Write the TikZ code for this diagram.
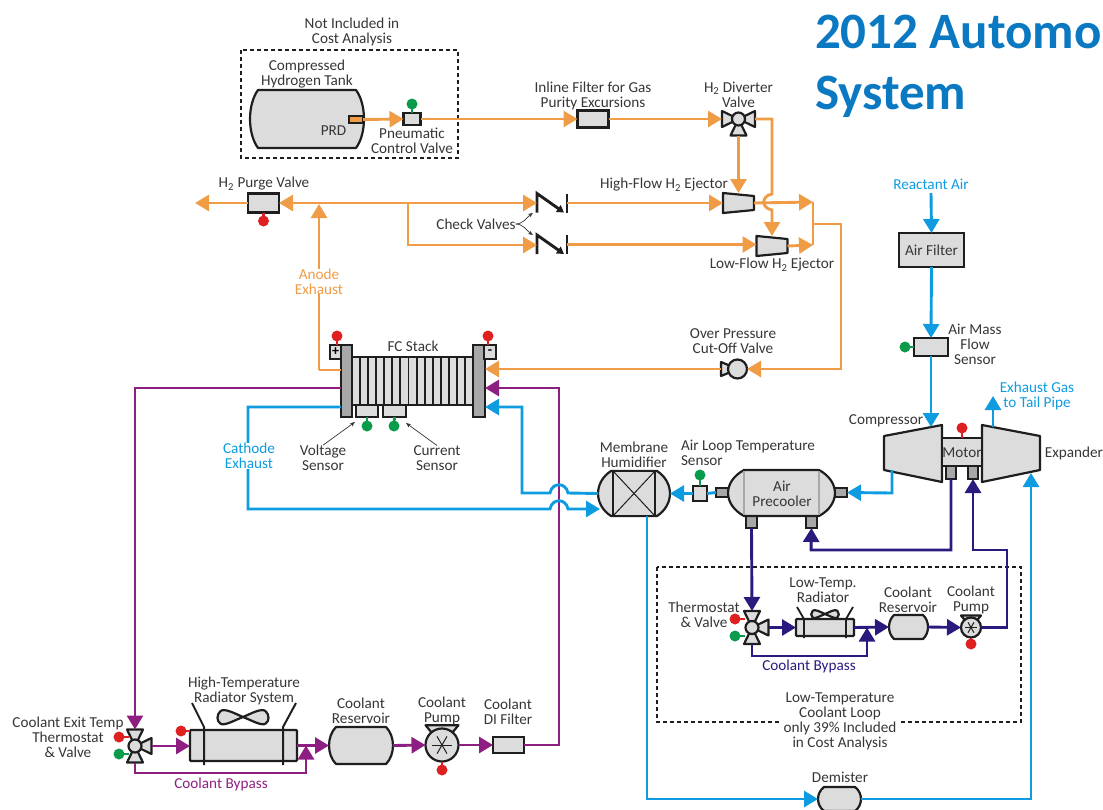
\documentclass[tikz,border=0pt]{standalone}
\usepackage{fontspec}
\setmainfont{Carlito}
\usetikzlibrary{arrows.meta,calc}

\definecolor{hcol}{HTML}{F09C46}
\definecolor{ccol}{HTML}{8E1F82}
\definecolor{acol}{HTML}{0E9BE0}
\definecolor{lcol}{HTML}{2B1A7E}
\definecolor{gy}{HTML}{DCDCDC}
\definecolor{gd}{HTML}{A8A8A8}
\definecolor{dk}{HTML}{1E1E1E}
\definecolor{txt}{HTML}{363636}
\definecolor{sigred}{HTML}{DF2020}
\definecolor{siggrn}{HTML}{0A9B4B}
\definecolor{ttlblue}{HTML}{0B78C2}

\newcommand{\vessel}[6]{
	\node[anch,minimum width=#4,minimum height=#5] (#1) at (#2,#3) {};
	\draw[part] ($(#1.north west)+(#6,0)$) -- ($(#1.north east)+(-#6,0)$)
		.. controls +({1.33*#6},{#5/4}) and +({1.33*#6},{-#5/4}) .. ($(#1.south east)+(-#6,0)$)
		-- ($(#1.south west)+(#6,0)$)
		.. controls +({-1.33*#6},{-#5/4}) and +({-1.33*#6},{#5/4}) .. ($(#1.north west)+(#6,0)$) -- cycle;
}
\newcommand{\tvalve}[4]{
	\node[anch,minimum width=33,minimum height=33] (#1) at (#2,#3) {};
	\foreach \a in {#4}
		\draw[part,shift={(#2,#3)},rotate=\a] (0,0) -- (16.5,-8) -- (16.5,8) -- cycle;
	\draw[part] (#1.center) circle[radius=6.5pt];
}
\newcommand{\ejector}[3]{
	\node[anch,minimum width=31,minimum height=20] (#1) at (#2,#3) {};
	\draw[part] (#1.north west) -- ($(#1.north east)+(0,3)$) -- ($(#1.south east)+(0,-3)$) -- (#1.south west) -- cycle;
}
\newcommand{\checkv}[3]{
	\node[anch,minimum width=30,minimum height=19] (#1) at (#2,#3) {};
	\draw[draw=dk,line width=2.9pt,-{Triangle[length=7pt,width=8pt]}] (#1.south west) -- (#1.north west) -- ($(#1.south east)+(-3,0)$);
	\draw[draw=dk,line width=2.9pt] (#1.north east) -- (#1.south east);
}
\newcommand{\cpump}[4]{
	\draw[part] ($(#2,#3)+({-#4},{-1.2*#4})$) -- ($(#2,#3)+(#4,{-1.2*#4})$) -- ($(#2,#3)+({.5*#4},{-.6*#4})$) -- ($(#2,#3)+({-.5*#4},{-.6*#4})$) -- cycle;
	\node[circle,draw=dk,fill=gy,line width=2.2pt,inner sep=0,outer sep=0,minimum size=2*#4] (#1) at (#2,#3) {};
	\foreach \a in {0,60,120}
		\draw[draw=dk,line width=1pt,shift={(#2,#3)},rotate=\a] ({-.6*#4},0) -- ({.6*#4},0);
}
\newcommand{\fan}[5]{
	\coordinate (#1) at (#2,#3);
	\draw[part,shift={(#2,#3)},xscale=#4,yscale=#5] (0,0) .. controls (.35,-.45) and (.8,-1.2) .. (.95,-.7)
		.. controls (1.1,-.3) and (1.1,.5) .. (.95,.8) .. controls (.8,1.2) and (.35,.4) .. (0,0)
		.. controls (-.35,-.45) and (-.8,-1.2) .. (-.95,-.7)
		.. controls (-1.1,-.3) and (-1.1,.5) .. (-.95,.8) .. controls (-.8,1.2) and (-.35,.4) .. (0,0) -- cycle;
}
\newcommand{\bulb}[5]{
	\node[circle,fill=#2,inner sep=0,outer sep=0,minimum size=11] (#1) at (#3,#4) {};
	\draw[draw=#2,line width=2.8pt] (#1.center) -- (#5);
}

\begin{document}
\begin{tikzpicture}[x=1pt,y=-1pt,>={Triangle[length=14pt,width=16pt]}]
	\tikzstyle{anch}=[rectangle,inner sep=0,outer sep=0]
	\tikzstyle{part}=[draw=dk,fill=gy,line width=2.2pt,line join=round]
	\tikzstyle{bx}=[anch,draw=dk,fill=gy,line width=2.2pt]
	\tikzstyle{lbl}=[align=center,text=txt,inner sep=0,outer sep=0,font=\fontsize{15.2}{15}\selectfont]
	\tikzstyle{dbox}=[draw=dk,line width=2.4pt,dash pattern=on 4pt off 3pt]
	\tikzstyle{lead}=[draw=txt,line width=.7pt,-{Stealth[length=5pt,width=4pt]}]
	\tikzstyle{hpipe}=[draw=hcol,line width=2.9pt]
	\tikzstyle{cpipe}=[draw=ccol,line width=2.9pt]
	\tikzstyle{apipe}=[draw=acol,line width=2.9pt]
	\tikzstyle{lpipe}=[draw=lcol,line width=2.9pt]
	\tikzstyle{hflow}=[hpipe,->]
	\tikzstyle{cflow}=[cpipe,->]
	\tikzstyle{aflow}=[apipe,->]
	\tikzstyle{lflow}=[lpipe,->]

	\clip (0,0) rectangle (1103,809);

	\node[anch,font=\fontsize{51}{62}\selectfont\bfseries,text=ttlblue,anchor=west] (ttl) at (815,32) {2012 Automo};
	\node[anch,font=\fontsize{51}{62}\selectfont\bfseries,text=ttlblue,anchor=west] (ttlb) at (815,97) {System};

	\draw[dbox] (241,50) rectangle (458,158);
	\draw[dbox] (657,567) rectangle (1021,722);

	\coordinate (jpg) at (408,203);
	\coordinate (jlo) at (408,245);
	\coordinate (pvo) at (195,203);
	\coordinate (divr) at (772,119);
	\coordinate (bmpt) at (772,194);
	\coordinate (bmpb) at (772,210);
	\coordinate (mixt) at (813,202);
	\coordinate (mixb) at (813,245);
	\coordinate (mixo) at (813,224);
	\coordinate (oprt) at (841,224);
	\coordinate (aex) at (319,370);
	\coordinate (aext) at (319,204);
	\coordinate (pupr) at (559,388);
	\coordinate (cexw) at (248,407);
	\coordinate (cexs) at (248,509);
	\coordinate (bp1a) at (550,509);
	\coordinate (bp1b) at (568,509);
	\coordinate (bp2a) at (550,493);
	\coordinate (bp2b) at (568,493);
	\coordinate (humi) at (600,509);
	\coordinate (hbl) at (522,493);
	\coordinate (hbt) at (522,407);
	\coordinate (hout) at (647,799);
	\coordinate (expi) at (1031,473);
	\coordinate (exb) at (993,427);
	\coordinate (exh) at (993,396);
	\coordinate (cmpi) at (931,427);
	\coordinate (cmpo) at (892,470);
	\coordinate (cmpb) at (892,493);
	\coordinate (rair) at (931,193);
	\coordinate (lc1) at (951,550);
	\coordinate (lc2) at (811,550);
	\coordinate (lc3) at (973,550);
	\coordinate (lc4) at (1007,550);
	\coordinate (lcb) at (752,656);
	\coordinate (lcc) at (867,656);
	\coordinate (hcb) at (135,773);
	\coordinate (hcc) at (306,773);
	\coordinate (vtip) at (355,422);
	\coordinate (ctip) at (406,423);
	\coordinate (ka) at (533,213);
	\coordinate (kb) at (533,235);

	\vessel{tank}{307}{119}{114}{58}{8}
	\node[bx,fill=hcol,minimum width=14,minimum height=7] (prd) at (356,119.5) {};
	\node[bx,minimum width=17,minimum height=12] (pcv) at (412,119) {};
	\node[bx,minimum width=31,minimum height=17] (filt) at (593,119) {};
	\tvalve{div}{738.5}{119}{0,180,270}
	\node[bx,minimum width=31,minimum height=19] (pv) at (263.5,203) {};
	\checkv{cv1}{552}{203}
	\checkv{cv2}{552}{244.5}
	\ejector{ejh}{738.5}{203}
	\ejector{ejl}{772}{246}
	\node[anch,minimum width=26,minimum height=20] (opv) at (734,369) {};
	\draw[part] (721,362) -- (721,376) -- (738,369) -- cycle;
	\draw[part] (737.5,369) circle[radius=9.5pt];

	\node[bx,fill=gd,minimum width=11,minimum height=72] (pltl) at (346.5,381) {};
	\node[bx,fill=gd,minimum width=12,minimum height=72] (pltr) at (479,381) {};
	\node[bx,minimum width=121,minimum height=48] (stack) at (412.5,381) {};
	\foreach \i in {1,...,14}
		\draw[draw=dk,line width=1.9pt] (352+\i*8.07,357) -- (352+\i*8.07,405);
	\node[bx,minimum width=11,minimum height=14,font=\bfseries\fontsize{14}{14}\selectfont] (plus) at (335.5,352) {+};
	\node[bx,minimum width=12,minimum height=14,font=\bfseries\fontsize{14}{14}\selectfont] (minus) at (490,352) {-};
	\node[bx,minimum width=22,minimum height=12] (vsn) at (367,411) {};
	\node[bx,minimum width=23,minimum height=12] (csn) at (394.5,411) {};

	\node[bx,minimum width=65,minimum height=34] (afil) at (931.5,250) {};
	\node[bx,minimum width=34,minimum height=18] (amf) at (931,347) {};

	\draw[part] (884,436) -- (942,425) -- (942,482) -- (884,470) -- cycle;
	\node[anch,minimum width=58,minimum height=57] (comp) at (913,453.5) {};
	\draw[part] (982,425) -- (1040,436) -- (1040,470) -- (982,482) -- cycle;
	\node[anch,minimum width=58,minimum height=57] (expd) at (1011,453.5) {};
	\node[bx,fill=gd,minimum width=10,minimum height=13] (ms1) at (951,472.5) {};
	\node[bx,fill=gd,minimum width=10,minimum height=13] (ms2) at (973,472.5) {};
	\node[bx,minimum width=40,minimum height=28] (mot) at (962,452) {};

	\node[bx,fill=gd,minimum width=14,minimum height=9] (pcl) at (723,492.5) {};
	\node[bx,fill=gd,minimum width=14,minimum height=9] (pcr) at (840,492.5) {};
	\node[bx,fill=gd,minimum width=11,minimum height=13] (pcb1) at (751.5,521.5) {};
	\node[bx,fill=gd,minimum width=11,minimum height=13] (pcb2) at (811.5,521.5) {};
	\vessel{pc}{781.5}{493}{107}{46}{16}
	\draw[draw=gd,line width=2.5pt] (744,471) -- (744,515);
	\draw[draw=gd,line width=2.5pt] (819,471) -- (819,515);
	\node[bx,minimum width=14,minimum height=15] (als) at (700,493.5) {};

	\vessel{hum}{634}{493.5}{72}{45}{13}
	\node[bx,minimum width=42,minimum height=45] (humx) at (634,493.5) {};
	\draw[draw=dk,line width=1pt] (humx.north west) -- (humx.south east);
	\draw[draw=dk,line width=1pt] (humx.north east) -- (humx.south west);
	\vessel{dem}{839.5}{799}{43}{24}{6}

	\tvalve{tv1}{135}{746}{0,90,270}
	\node[bx,rounded corners=1pt,minimum width=107,minimum height=31] (hrad) at (243.5,745.5) {};
	\draw[draw=dk,line width=2pt] (192,703) -- (204,727) -- (204,765);
	\draw[draw=dk,line width=2pt] (296,703) -- (283,727) -- (283,765);
	\fan{hfan}{243}{717}{24}{8}
	\vessel{hres}{361}{745.5}{64}{37}{7}
	\cpump{hpmp}{442}{745}{16.5}
	\node[bx,minimum width=31,minimum height=16] (difl) at (508.5,745) {};

	\tvalve{tv2}{752}{627.5}{0,90,270}
	\node[bx,rounded corners=1pt,minimum width=58,minimum height=17] (lrad) at (825,627.5) {};
	\draw[draw=dk,line width=1.8pt] (797,607) -- (804,619) -- (804,638);
	\draw[draw=dk,line width=1.8pt] (853,607) -- (846,619) -- (846,638);
	\fan{lfan}{825}{614}{13}{4.5}
	\vessel{lres}{908.5}{627}{39}{24}{5}
	\cpump{lpmp}{971}{627.5}{10}

	\path (prd.east) edge[hflow] (pcv.west)
		(pcv.east) edge[hflow] (filt.west)
		(filt.east) edge[hflow] (div.west)
		(div.south) edge[hflow] (ejh.north)
		(cv1.east) edge[hflow] (ejh.west |- cv1.east)
		(cv2.east) edge[hflow] (ejl.west |- cv2.east)
		(ejh.east) edge[hflow] (mixt)
		(ejl.east) edge[hflow] (mixb)
		(jpg) edge[hflow] (cv1.west)
		(aex) edge[hflow] (aext)
		(jpg) edge[hflow] (pv.east)
		(pv.west) edge[hflow] (pvo);
	\draw[hflow] (jpg) -- (jlo) -- (cv2.west |- jlo);
	\draw[hflow] (div.east) -- (divr) -- (bmpt) .. controls +(-11,2) and +(-11,-2) .. (bmpb) -- (ejl.north);
	\draw[hpipe] (mixt) -- (mixb);
	\draw[hflow] (mixo) -- (oprt) |- (opv.east);
	\draw[hflow] (opv.west) -- (pltr.east |- opv.west);
	\draw[hpipe] (pltl.west |- aex) -- (aex);

	\draw[cflow] (difl.east) -| (pupr) -- (pltr.east |- pupr);
	\draw[cflow] (pltl.west |- pupr) -| (tv1.north);
	\path (tv1.east) edge[cflow] (hrad.west |- tv1.east)
		(hrad.east) edge[cflow] (hres.west)
		(hres.east) edge[cflow] (hpmp.west)
		(hpmp.east) edge[cflow] (difl.west);
	\draw[cflow] (tv1.south) -- (hcb) -- (hcc) -- (hcc |- hrad.east);

	\draw[aflow] (pltl.west |- cexw) -- (cexw) -- (cexs) -- (bp1a) .. controls +(2,-11) and +(-2,-11) .. (bp1b) -- (humi);
	\draw[aflow] (hum.west) -- (bp2b) .. controls +(-2,-11) and +(2,-11) .. (bp2a) -- (hbl) -- (hbt) -- (pltr.east |- hbt);
	\draw[aflow] (hum.south -| hout) -- (hout) -- (dem.west |- hout);
	\draw[aflow] (dem.east) -| (expi);
	\path (rair) edge[aflow] (afil.north)
		(afil.south) edge[aflow] (amf.north)
		(amf.south) edge[aflow] (cmpi)
		(pcl.west) edge[apipe] (als.east)
		(als.west) edge[aflow] (hum.east)
		(exb) edge[aflow] (exh);
	\draw[aflow] (cmpo) -- (cmpb) -- (pcr.east);

	\draw[lflow] (pcb1.south) -- (tv2.north);
	\draw[lflow] (ms1.south) -- (lc1) -- (lc2) -- (pcb2.south);
	\draw[lflow] (lpmp.east) -| (lc4) -- (lc3) -- (ms2.south);
	\path (tv2.east) edge[lflow] (lrad.west |- tv2.east)
		(lrad.east) edge[lflow] (lres.west)
		(lres.east) edge[lflow] (lpmp.west);
	\draw[lflow] (tv2.south) -- (lcb) -- (lcc) -- (lcc |- lrad.east);

	\bulb{rpv}{sigred}{263.5}{221}{pv.south}
	\bulb{gpcv}{siggrn}{412}{104}{pcv.north}
	\bulb{rplus}{sigred}{337}{336}{337,345}
	\bulb{rmin}{sigred}{488}{336}{488,345}
	\bulb{gvs}{siggrn}{367}{426}{vsn.south}
	\bulb{gcs}{siggrn}{394}{426}{csn.south}
	\bulb{gals}{siggrn}{700}{475}{als.north}
	\bulb{gamf}{siggrn}{905}{347}{amf.west}
	\bulb{rmot}{sigred}{962}{428}{mot.north}
	\bulb{rtv1}{sigred}{119}{737}{129,737}
	\bulb{gtv1}{siggrn}{119}{754}{129,754}
	\bulb{rhrd}{sigred}{181}{731}{190,731}
	\bulb{rhp}{sigred}{442}{770}{hpmp.south}
	\bulb{rtv2}{sigred}{735}{619}{745,619}
	\bulb{gtv2}{siggrn}{735}{636}{745,636}
	\bulb{rlp}{sigred}{971}{644}{lpmp.south}

	\node[lbl] (lnot) at (352,32) {Not Included in\\Cost Analysis};
	\node[lbl] (ltank) at (307,74) {Compressed\\Hydrogen Tank};
	\node[lbl] (lprd) at (333.5,131) {PRD};
	\node[lbl] (lpcv) at (412,141) {Pneumatic\\Control Valve};
	\node[lbl] (lfilt) at (593,95.5) {Inline Filter for Gas\\Purity Excursions};
	\node[lbl] (ldiv) at (738.5,95) {H\textsubscript{2} Diverter\\Valve};
	\node[lbl] (lpv) at (264,184) {H\textsubscript{2} Purge Valve};
	\node[lbl] (lejh) at (664,185) {High-Flow H\textsubscript{2} Ejector};
	\node[lbl] (lejl) at (772,265) {Low-Flow H\textsubscript{2} Ejector};
	\node[lbl] (lchk) at (476,224) {Check Valves};
	\node[lbl] (lopv) at (733,341.5) {Over Pressure\\Cut-Off Valve};
	\node[lbl,text=hcol,fill=white] (lanode) at (319,281.5) {Anode\\Exhaust};
	\node[lbl] (lstack) at (413,346) {FC Stack};
	\node[lbl] (lvolt) at (323,458) {Voltage\\Sensor};
	\node[lbl] (lcurr) at (437,458) {Current\\Sensor};
	\node[lbl,text=acol,fill=white] (lcath) at (249,456) {Cathode\\Exhaust};
	\node[lbl] (lhum) at (634,454.5) {Membrane\\Humidifier};
	\node[lbl,anchor=west] (lals) at (681,446) {Air Loop Temperature};
	\node[lbl,anchor=west] (lalsb) at (681,461) {Sensor};
	\node[lbl] (lpc) at (782,494) {Air\\Precooler};
	\node[lbl,text=acol] (lrair) at (931,184) {Reactant Air};
	\node[lbl] (lafil) at (931.5,250) {Air Filter};
	\node[lbl] (lamf) at (975,344) {Air Mass\\Flow\\Sensor};
	\node[lbl,text=acol] (lexh) at (1037,395.5) {Exhaust Gas\\to Tail Pipe};
	\node[lbl] (lcomp) at (886,421) {Compressor};
	\node[lbl] (lmot) at (962,453) {Motor};
	\node[lbl] (lexp) at (1074,453) {Expander};
	\node[lbl] (lhrad) at (244,690.5) {High-Temperature\\Radiator System};
	\node[lbl] (ltv1) at (68,737) {Coolant Exit Temp\\Thermostat\\\& Valve};
	\node[lbl,text=ccol] (lhby) at (221,784) {Coolant Bypass};
	\node[lbl] (lhres) at (361,710.5) {Coolant\\Reservoir};
	\node[lbl] (lhpmp) at (442,710.5) {Coolant\\Pump};
	\node[lbl] (ldifl) at (508,711.5) {Coolant\\DI Filter};
	\node[lbl] (ltv2) at (704,614.5) {Thermostat\\\& Valve};
	\node[lbl] (llrad) at (823,590.5) {Low-Temp.\\Radiator};
	\node[lbl] (llres) at (908,599.5) {Coolant\\Reservoir};
	\node[lbl] (llpmp) at (971,599.5) {Coolant\\Pump};
	\node[lbl,text=lcol] (llby) at (809,666) {Coolant Bypass};
	\node[lbl,fill=white,inner sep=3pt] (llow) at (840,721) {Low-Temperature\\Coolant Loop\\only 39\% Included\\in Cost Analysis};
	\node[lbl] (ldem) at (840,777) {Demister};

	\draw[lead] (lchk.east) .. controls +(8,0) and +(-6,4) .. (ka);
	\draw[lead] (lchk.east) .. controls +(8,0) and +(-6,-4) .. (kb);
	\draw[lead] (lvolt.north) -- (vtip);
	\draw[lead] (lcurr.north) -- (ctip);
\end{tikzpicture}
\end{document}
